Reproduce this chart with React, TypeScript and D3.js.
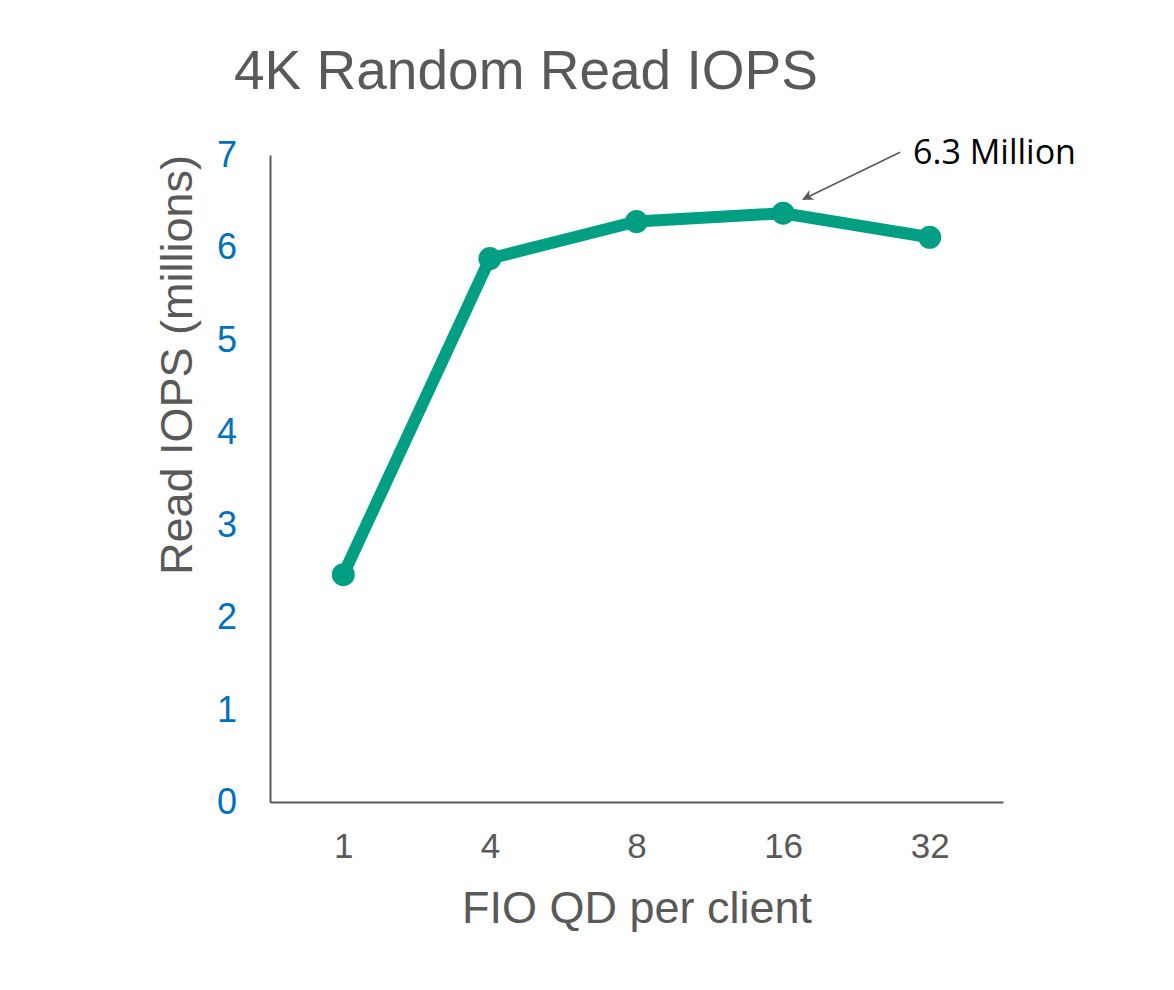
import React, { useEffect, useRef } from 'react';
import * as d3 from 'd3';

const queueDepths = ['1', '4', '8', '16', '32'];
const readIops = [2.46, 5.88, 6.28, 6.37, 6.11];
const yTicks = [0, 1, 2, 3, 4, 5, 6, 7];
const peakLabel = '6.3 Million';
const peakIndex = 3;

const width = 1174;
const height = 990;
const teal = '#009e82';
const grey = '#595959';
const blue = '#0070c0';

const App: React.FC = () => {
  const svgRef = useRef<SVGSVGElement>(null);

  useEffect(() => {
    document.body.style.margin = '0';
    if (!svgRef.current) return;
    const svg = d3.select(svgRef.current);
    svg.selectAll('*').remove();

    const x = d3.scalePoint<string>()
      .domain(queueDepths)
      .range([270, 1003])
      .padding(0.5);

    const y = d3.scaleLinear()
      .domain([0, 7])
      .range([802, 155]);

    // arrow marker
    svg.append('defs')
      .append('marker')
      .attr('id', 'arrowhead')
      .attr('viewBox', '0 0 10 10')
      .attr('refX', 9)
      .attr('refY', 5)
      .attr('markerWidth', 13)
      .attr('markerHeight', 11)
      .attr('markerUnits', 'userSpaceOnUse')
      .attr('orient', 'auto')
      .append('path')
      .attr('d', 'M0,0 L10,5 L0,10 L3,5 Z')
      .attr('fill', grey);

    // title
    svg.append('text')
      .attr('x', 234)
      .attr('y', 89)
      .attr('font-family', '"Liberation Sans", Arial, sans-serif')
      .attr('font-size', 55)
      .attr('fill', grey)
      .text('4K Random Read IOPS');

    // y axis
    const yAxis = svg.append('g')
      .attr('transform', 'translate(270,0)')
      .call(d3.axisLeft(y).tickValues(yTicks).tickSize(0).tickPadding(33).tickFormat(d3.format('d')));
    yAxis.select('.domain').attr('stroke', grey).attr('stroke-width', 2);
    yAxis.selectAll('.tick text')
      .attr('font-family', '"Liberation Sans", Arial, sans-serif')
      .attr('font-size', 36)
      .attr('fill', blue);

    // x axis
    const xAxis = svg.append('g')
      .attr('transform', 'translate(0,802)')
      .call(d3.axisBottom(x).tickSize(0).tickPadding(31));
    xAxis.select('.domain').attr('stroke', grey).attr('stroke-width', 2);
    xAxis.selectAll('.tick text')
      .attr('font-family', '"Liberation Sans", Arial, sans-serif')
      .attr('font-size', 35)
      .attr('fill', grey);

    // axis titles
    svg.append('text')
      .attr('x', 637)
      .attr('y', 923)
      .attr('text-anchor', 'middle')
      .attr('font-family', '"Liberation Sans", Arial, sans-serif')
      .attr('font-size', 45)
      .attr('fill', grey)
      .text('FIO QD per client');

    svg.append('text')
      .attr('transform', 'translate(192,365) rotate(-90)')
      .attr('text-anchor', 'middle')
      .attr('font-family', '"Liberation Sans", Arial, sans-serif')
      .attr('font-size', 45)
      .attr('fill', grey)
      .text('Read IOPS (millions)');

    // line
    const line = d3.line<number>()
      .x((d, i) => x(queueDepths[i]) ?? 0)
      .y(d => y(d));

    svg.append('path')
      .datum(readIops)
      .attr('d', line)
      .attr('fill', 'none')
      .attr('stroke', teal)
      .attr('stroke-width', 12)
      .attr('stroke-linejoin', 'round');

    svg.selectAll('circle.pt')
      .data(readIops)
      .join('circle')
      .attr('class', 'pt')
      .attr('cx', (d, i) => x(queueDepths[i]) ?? 0)
      .attr('cy', d => y(d))
      .attr('r', 11.5)
      .attr('fill', teal);

    // annotation
    const px = x(queueDepths[peakIndex]) ?? 0;
    const py = y(readIops[peakIndex]);
    svg.append('line')
      .attr('x1', px + 117)
      .attr('y1', py - 61)
      .attr('x2', px + 20)
      .attr('y2', py - 14)
      .attr('stroke', grey)
      .attr('stroke-width', 1.6)
      .attr('marker-end', 'url(#arrowhead)');

    svg.append('text')
      .attr('x', px + 130)
      .attr('y', py - 49)
      .attr('font-family', '"Open Sans", "Noto Sans", sans-serif')
      .attr('font-size', 34)
      .attr('fill', '#000')
      .text(peakLabel);
  }, []);

  return <svg ref={svgRef} width={width} height={height} style={{ display: 'block', background: '#fff' }} />;
};

export default App;
